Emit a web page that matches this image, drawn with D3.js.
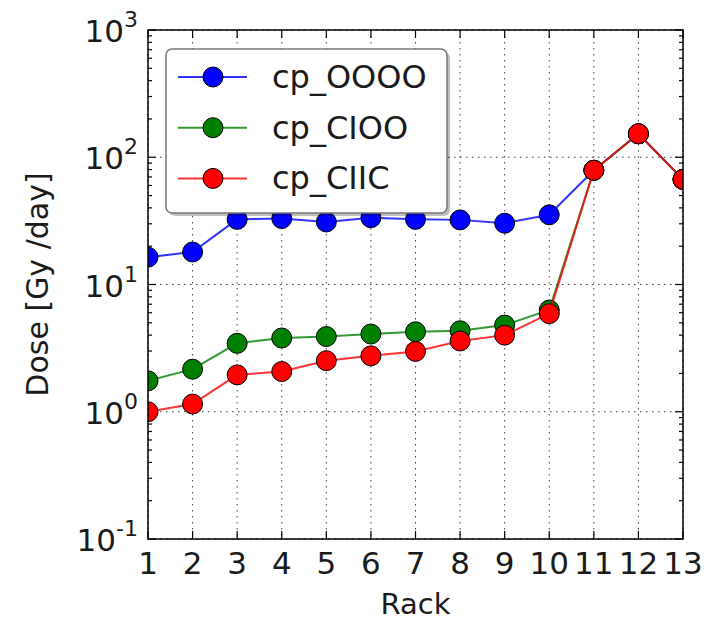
<!DOCTYPE html>
<html>
<head>
<meta charset="utf-8">
<script src="https://cdn.jsdelivr.net/npm/d3@7"></script>
<style>
  html, body { margin: 0; padding: 0; background: #fff; }
  svg { display: block; }
  text { font-family: "DejaVu Sans", sans-serif; fill: #1a1a1a; }
</style>
</head>
<body>
<svg id="chart" width="706" height="622"></svg>
<script>
// Rack positions and dose per rack for each configuration (Gy/day)
const racks = [1, 2, 3, 4, 5, 6, 7, 8, 9, 10, 11, 12, 13];
const cpOOOO = [16.4, 18.0, 32.5, 33.0, 31.0, 33.5, 32.5, 32.2, 30.3, 35.3, 79, 153, 67];
const cpCIOO = [1.75, 2.16, 3.45, 3.8, 3.9, 4.08, 4.25, 4.33, 4.8, 6.3, 79, 153, 67];
const cpCIIC = [1.0, 1.15, 1.95, 2.07, 2.52, 2.75, 2.98, 3.6, 4.0, 5.9, 79, 153, 67];
const seriesNames = ["cp_OOOO", "cp_CIOO", "cp_CIIC"];
const seriesColors = ["#0000ff", "#008000", "#ff0000"];
const yDecades = [-1, 0, 1, 2, 3];

const series = [cpOOOO, cpCIOO, cpCIIC].map((vals, i) => ({
  name: seriesNames[i], color: seriesColors[i],
  points: vals.map((v, j) => ({ x: racks[j], y: v }))
}));

const svg = d3.select("#chart");
const m = { left: 148, right: 683, top: 30, bottom: 539 };

const x = d3.scaleLinear().domain([1, 13]).range([m.left, m.right]);
const y = d3.scaleLog().domain([0.1, 1000]).range([m.bottom, m.top]);

// Clip region for plot contents
svg.append("defs").append("clipPath").attr("id", "plotClip")
  .append("rect").attr("x", m.left).attr("y", m.top)
  .attr("width", m.right - m.left).attr("height", m.bottom - m.top);

// Dotted grid
const grid = svg.append("g").attr("stroke", "#000").attr("stroke-width", 1)
  .attr("stroke-dasharray", "1.5,4.5").attr("opacity", 0.75);
racks.forEach(r => grid.append("line")
  .attr("x1", x(r)).attr("x2", x(r)).attr("y1", m.top).attr("y2", m.bottom));
yDecades.forEach(d => grid.append("line")
  .attr("x1", m.left).attr("x2", m.right).attr("y1", y(Math.pow(10, d))).attr("y2", y(Math.pow(10, d))));

// Inward ticks on all four sides
const ticks = svg.append("g").attr("stroke", "#000").attr("stroke-width", 1.2);
racks.forEach(r => {
  ticks.append("line").attr("x1", x(r)).attr("x2", x(r)).attr("y1", m.bottom).attr("y2", m.bottom - 8);
  ticks.append("line").attr("x1", x(r)).attr("x2", x(r)).attr("y1", m.top).attr("y2", m.top + 8);
});
const minorVals = [];
for (let d = -1; d < 3; d++) for (let k = 2; k <= 9; k++) minorVals.push(k * Math.pow(10, d));
minorVals.forEach(v => {
  ticks.append("line").attr("x1", m.left).attr("x2", m.left + 4).attr("y1", y(v)).attr("y2", y(v));
  ticks.append("line").attr("x1", m.right).attr("x2", m.right - 4).attr("y1", y(v)).attr("y2", y(v));
});
yDecades.forEach(d => {
  const v = Math.pow(10, d);
  ticks.append("line").attr("x1", m.left).attr("x2", m.left + 8).attr("y1", y(v)).attr("y2", y(v));
  ticks.append("line").attr("x1", m.right).attr("x2", m.right - 8).attr("y1", y(v)).attr("y2", y(v));
});

// Series lines and markers
const plot = svg.append("g").attr("clip-path", "url(#plotClip)");
const line = d3.line().x(d => x(d.x)).y(d => y(d.y));
series.forEach(s => {
  plot.append("path").datum(s.points).attr("d", line)
    .attr("fill", "none").attr("stroke", s.color).attr("stroke-width", 2).attr("opacity", 0.8);
  plot.selectAll(null).data(s.points).enter().append("circle")
    .attr("cx", d => x(d.x)).attr("cy", d => y(d.y)).attr("r", 10)
    .attr("fill", s.color).attr("stroke", "#000").attr("stroke-width", 1);
});

// Frame
svg.append("rect").attr("x", m.left).attr("y", m.top)
  .attr("width", m.right - m.left).attr("height", m.bottom - m.top)
  .attr("fill", "none").attr("stroke", "#000").attr("stroke-width", 1.5);

// X tick labels
svg.append("g").selectAll("text").data(racks).enter().append("text")
  .attr("x", d => x(d)).attr("y", 574).attr("text-anchor", "middle")
  .attr("font-size", 31).text(d => d);

// Y tick labels: 10 with superscript exponent
const yl = svg.append("g");
yDecades.forEach(d => {
  const t = yl.append("text").attr("x", 138).attr("y", y(Math.pow(10, d)) + 12)
    .attr("text-anchor", "end").attr("font-size", 31);
  t.append("tspan").text("10");
  t.append("tspan").attr("dy", -15).attr("font-size", 22).text(d);
});

// Axis titles
svg.append("text").attr("x", (m.left + m.right) / 2).attr("y", 614)
  .attr("text-anchor", "middle").attr("font-size", 29).text("Rack");
svg.append("text").attr("transform", `translate(48,${(m.top + m.bottom) / 2}) rotate(-90)`)
  .attr("text-anchor", "middle").attr("font-size", 30).text("Dose [Gy /day]");

// Legend
const lg = svg.append("g");
lg.append("rect").attr("x", 169).attr("y", 52).attr("width", 281).attr("height", 164)
  .attr("rx", 6).attr("fill", "#000").attr("opacity", 0.25);
lg.append("rect").attr("x", 166).attr("y", 49).attr("width", 281).attr("height", 164)
  .attr("rx", 6).attr("fill", "#fff").attr("stroke", "#777").attr("stroke-width", 1.5);
series.forEach((s, i) => {
  const cy = 77 + i * 50.7;
  lg.append("line").attr("x1", 178).attr("x2", 247).attr("y1", cy).attr("y2", cy)
    .attr("stroke", s.color).attr("stroke-width", 2).attr("opacity", 0.8);
  lg.append("circle").attr("cx", 213).attr("cy", cy).attr("r", 10)
    .attr("fill", s.color).attr("stroke", "#000").attr("stroke-width", 1);
  lg.append("text").attr("x", 272).attr("y", cy + 11).attr("font-size", 32).text(s.name);
});
</script>
</body>
</html>
